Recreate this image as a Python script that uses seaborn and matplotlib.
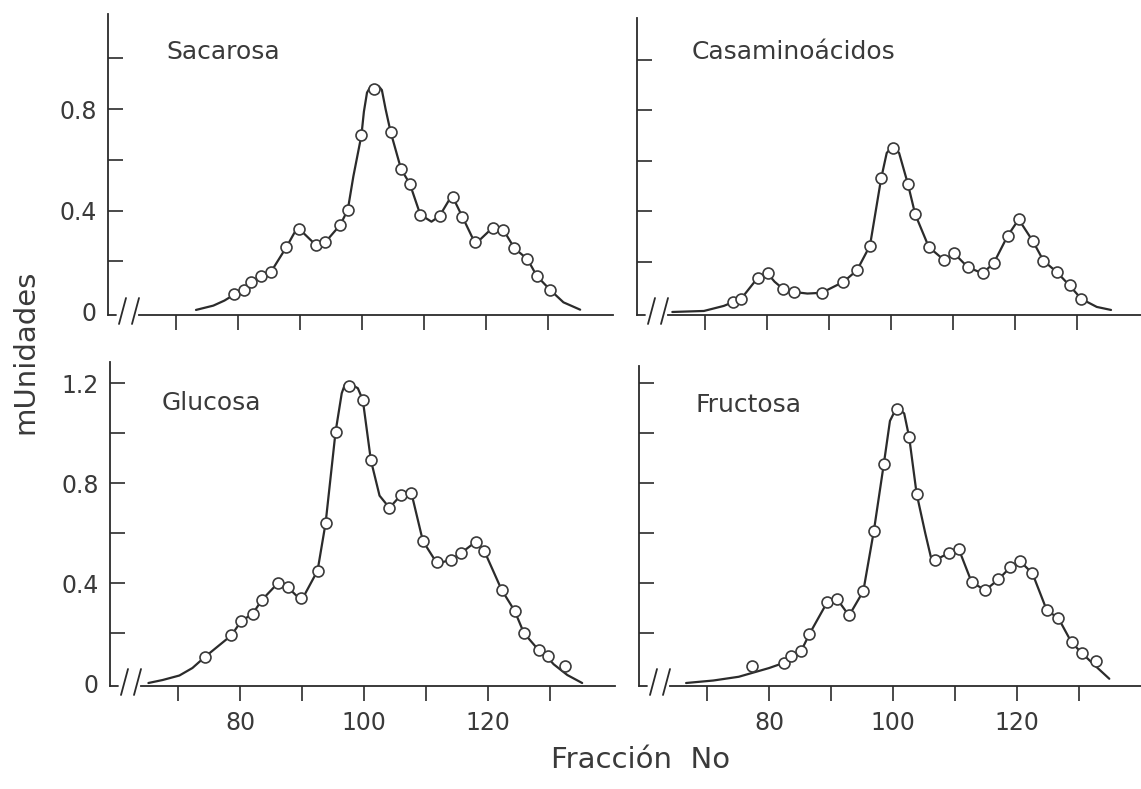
import matplotlib
matplotlib.use("Agg")
import matplotlib.pyplot as plt
import seaborn as sns
import pandas as pd

# ---------------- data ----------------
panel_names = ["Sacarosa", "Casaminoácidos", "Glucosa", "Fructosa"]

# Sacarosa
sac_x = [79.4, 81.0, 82.1, 83.7, 85.3, 87.8, 89.9, 92.5, 94.1, 96.5, 97.7, 99.9, 102.0, 104.6,
         106.3, 107.7, 109.4, 112.5, 114.6, 116.2, 118.3, 121.1, 122.8, 124.6, 126.7, 128.2, 130.4]
sac_y = [0.069, 0.086, 0.119, 0.142, 0.158, 0.256, 0.329, 0.265, 0.276, 0.344, 0.403, 0.697, 0.880, 0.711,
         0.563, 0.506, 0.384, 0.378, 0.454, 0.375, 0.276, 0.333, 0.324, 0.251, 0.208, 0.142, 0.086]
sac_cx = [73.2, 76.0, 77.8, 79.4, 81.0, 82.1, 83.7, 85.3, 87.8, 89.6, 90.6, 92.5, 94.1, 96.5, 97.7, 98.6,
          99.9, 100.3, 100.8, 101.4, 102.7, 103.2, 103.8, 104.6, 106.3, 107.7, 109.4, 111.2, 112.5,
          114.5, 116.2, 118.3, 121.1, 122.8, 124.6, 126.7, 128.2, 130.4, 132.5, 135.2]
sac_cy = [0.008, 0.025, 0.045, 0.069, 0.086, 0.119, 0.142, 0.158, 0.256, 0.335, 0.31, 0.265, 0.276, 0.344,
          0.403, 0.535, 0.697, 0.79, 0.865, 0.89, 0.89, 0.875, 0.8, 0.711, 0.563, 0.506, 0.384, 0.356,
          0.378, 0.46, 0.375, 0.268, 0.333, 0.324, 0.251, 0.208, 0.142, 0.086, 0.038, 0.009]

# Casaminoácidos
cas_x = [74.5, 75.8, 78.5, 80.1, 82.5, 84.4, 88.8, 92.3, 94.5, 96.6, 98.4, 100.3, 102.7, 103.9,
         106.1, 108.5, 110.2, 112.4, 114.8, 116.6, 118.8, 120.6, 122.9, 124.6, 126.8, 128.8, 130.7]
cas_y = [0.039, 0.052, 0.136, 0.153, 0.093, 0.079, 0.076, 0.119, 0.165, 0.263, 0.529, 0.649, 0.509, 0.387,
         0.257, 0.207, 0.232, 0.177, 0.153, 0.195, 0.301, 0.367, 0.280, 0.203, 0.157, 0.105, 0.052]
cas_cx = [64.7, 69.8, 73.0, 74.5, 75.8, 78.5, 80.0, 81.2, 82.5, 84.4, 86.5, 88.8, 92.3, 94.5, 96.6, 98.4,
          99.3, 100.3, 101.3, 102.7, 103.9, 106.1, 108.5, 110.2, 112.4, 114.8, 116.6, 118.8, 120.6,
          122.9, 124.6, 126.8, 128.8, 130.7, 133.2, 135.5]
cas_cy = [0.0, 0.004, 0.024, 0.039, 0.052, 0.136, 0.155, 0.12, 0.093, 0.079, 0.073, 0.076, 0.119, 0.165,
          0.263, 0.529, 0.63, 0.66, 0.63, 0.509, 0.387, 0.257, 0.207, 0.232, 0.177, 0.153, 0.195, 0.301,
          0.367, 0.28, 0.203, 0.157, 0.105, 0.052, 0.02, 0.008]

# Glucosa
glu_x = [74.3, 78.6, 80.2, 82.0, 83.5, 86.1, 87.7, 89.9, 92.5, 93.8, 95.4, 97.6, 99.8, 101.1, 104.1,
         105.9, 107.6, 109.5, 111.8, 114.0, 115.7, 118.0, 119.4, 122.2, 124.3, 125.8, 128.2, 129.7, 132.4]
glu_y = [0.104, 0.191, 0.249, 0.276, 0.332, 0.400, 0.383, 0.339, 0.450, 0.641, 1.005, 1.190, 1.133, 0.892,
         0.701, 0.751, 0.762, 0.568, 0.483, 0.493, 0.521, 0.565, 0.529, 0.373, 0.289, 0.200, 0.131, 0.108, 0.067]
glu_cx = [65.2, 67.5, 70.2, 72.3, 74.3, 78.6, 80.2, 82.0, 83.5, 86.1, 87.7, 89.9, 92.5, 93.8, 95.4, 96.4,
          96.9, 97.6, 99.0, 99.8, 101.1, 102.5, 104.1, 105.9, 107.6, 109.5, 111.8, 114.0, 115.7, 118.0,
          119.4, 122.2, 124.3, 125.8, 128.2, 129.7, 130.6, 132.8, 135.2]
glu_cy = [0.0, 0.012, 0.03, 0.06, 0.104, 0.191, 0.249, 0.276, 0.332, 0.400, 0.383, 0.33, 0.45, 0.641, 1.005,
          1.16, 1.195, 1.2, 1.18, 1.133, 0.892, 0.75, 0.701, 0.751, 0.765, 0.568, 0.478, 0.493, 0.521,
          0.565, 0.529, 0.373, 0.289, 0.2, 0.131, 0.1, 0.075, 0.032, 0.0]

# Fructosa
fru_x = [77.2, 82.4, 83.5, 85.2, 86.5, 89.4, 91.0, 92.9, 95.2, 96.9, 98.5, 100.6, 102.6, 103.8, 106.7,
         109.1, 110.6, 112.7, 114.9, 117.0, 118.9, 120.5, 122.5, 124.8, 126.7, 128.8, 130.5, 132.8]
fru_y = [0.068, 0.081, 0.109, 0.129, 0.196, 0.325, 0.335, 0.271, 0.368, 0.609, 0.876, 1.099, 0.985, 0.759,
         0.492, 0.521, 0.537, 0.403, 0.372, 0.415, 0.463, 0.488, 0.439, 0.292, 0.259, 0.163, 0.119, 0.088]
fru_cx = [66.6, 71.0, 75.1, 77.2, 80.0, 82.4, 83.5, 85.2, 86.5, 89.4, 91.0, 92.9, 95.2, 96.9, 98.5, 99.5,
          100.6, 101.8, 102.6, 103.8, 105.2, 106.1, 106.7, 109.1, 110.6, 112.7, 114.9, 117.0, 118.9,
          120.5, 122.5, 124.8, 126.7, 128.8, 130.5, 132.8, 134.9]
fru_cy = [0.0, 0.01, 0.025, 0.04, 0.06, 0.081, 0.105, 0.13, 0.196, 0.325, 0.335, 0.27, 0.368, 0.609, 0.876,
          1.05, 1.105, 1.08, 0.985, 0.759, 0.6, 0.505, 0.492, 0.521, 0.537, 0.403, 0.372, 0.415, 0.463,
          0.488, 0.439, 0.292, 0.259, 0.163, 0.119, 0.065, 0.017]

x_ticks = [70, 80, 90, 100, 110, 120, 130]
x_tick_labels = ["", "80", "", "100", "", "120", ""]
y_ticks_top = [0, 0.2, 0.4, 0.6, 0.8, 1.0]
y_labels_top = ["0", "", "0.4", "", "0.8", ""]
y_ticks_bot = [0, 0.2, 0.4, 0.6, 0.8, 1.0, 1.2]
y_labels_bot = ["0", "", "0.4", "", "0.8", "", "1.2"]

# ---------------- figure ----------------
sns.set_style("ticks")
plt.rcParams["font.family"] = ["DejaVu Sans"]
INK = "#2b2b2b"
TXT = "#3a3a3a"

W, H = 1141, 789
fig = plt.figure(figsize=(W / 100, H / 100), dpi=100)
fig.patch.set_facecolor("white")


def rect(left, top, right, bottom):
    return [left / W, 1 - bottom / H, (right - left) / W, (bottom - top) / H]


XLIM = (59.0, 140.5)
panels = [
    dict(name="Sacarosa", x=sac_x, y=sac_y, cx=sac_cx, cy=sac_cy,
         rect=rect(108, 14, 613, 315), ylim=(-0.012, 1.175), yt=y_ticks_top,
         yl=y_labels_top, xlab=False, ylab=True, lab=(166, 52)),
    dict(name="Casaminoácidos", x=cas_x, y=cas_y, cx=cas_cx, cy=cas_cy,
         rect=rect(637, 18, 1142, 315), ylim=(-0.012, 1.165), yt=y_ticks_top,
         yl=None, xlab=False, ylab=False, lab=(692, 52)),
    dict(name="Glucosa", x=glu_x, y=glu_y, cx=glu_cx, cy=glu_cy,
         rect=rect(110, 362, 615, 686), ylim=(-0.012, 1.285), yt=y_ticks_bot,
         yl=y_labels_bot, xlab=True, ylab=True, lab=(162, 403)),
    dict(name="Fructosa", x=fru_x, y=fru_y, cx=fru_cx, cy=fru_cy,
         rect=rect(639, 366, 1144, 686), ylim=(-0.012, 1.27), yt=y_ticks_bot,
         yl=None, xlab=True, ylab=False, lab=(695, 405)),
]

for p in panels:
    ax = fig.add_axes(p["rect"])
    ax.set_facecolor("none")
    curve = pd.DataFrame({"x": p["cx"], "y": p["cy"]})
    pts = pd.DataFrame({"x": p["x"], "y": p["y"]})
    sns.lineplot(data=curve, x="x", y="y", ax=ax, sort=False, estimator=None,
                 color=INK, linewidth=1.6, zorder=2)
    sns.scatterplot(data=pts, x="x", y="y", ax=ax, marker="o", s=62,
                    facecolor="white", edgecolor="#3a3a3a", linewidth=1.2, zorder=3)
    ax.set_xlim(*XLIM)
    ax.set_ylim(*p["ylim"])
    ax.set_xlabel("")
    ax.set_ylabel("")
    for s in ("top", "right"):
        ax.spines[s].set_visible(False)
    for s in ("left", "bottom"):
        ax.spines[s].set_color(INK)
        ax.spines[s].set_linewidth(1.3)
    ax.spines["bottom"].set_bounds(64.0, XLIM[1])

    ax.set_xticks(x_ticks)
    ax.set_xticklabels(x_tick_labels if p["xlab"] else [""] * len(x_ticks))
    ax.set_yticks(p["yt"])
    ax.set_yticklabels(p["yl"] if p["ylab"] else [""] * len(p["yt"]))
    ax.tick_params(axis="x", direction="out", length=11, width=1.2, pad=7,
                   labelsize=17, colors=INK, labelcolor=TXT)
    ax.tick_params(axis="y", direction="in", length=11, width=1.2, pad=8,
                   labelsize=17, colors=INK, labelcolor=TXT)
    ax.yaxis.get_major_ticks()[0].tick1line.set_visible(False)

    # axis break: hook + two slashes
    wpx = p["rect"][2] * W
    hpx = p["rect"][3] * H
    ax.plot([0, 8 / wpx], [0, 0], transform=ax.transAxes, color=INK, lw=1.3,
            clip_on=False)
    for x0 in (11, 24):
        ax.plot([x0 / wpx, (x0 + 7) / wpx], [-9 / hpx, 17 / hpx],
                transform=ax.transAxes, color=INK, lw=1.3, clip_on=False)

    lx, ly = p["lab"]
    fig.text(lx / W, 1 - ly / H, p["name"], fontsize=18, color=TXT,
             ha="left", va="center")

fig.text(25 / W, 1 - 352 / H, "mUnidades", rotation=90, fontsize=21,
         color=TXT, ha="center", va="center")
fig.text(641 / W, 1 - 760 / H, "Fracción  No", fontsize=21, color=TXT,
         ha="center", va="center")

fig.savefig("out.png", dpi=100, facecolor="white")
